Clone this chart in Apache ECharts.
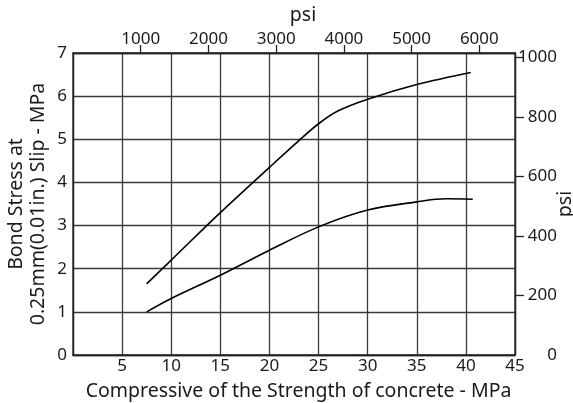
<!DOCTYPE html>
<html>
<head>
<meta charset="utf-8">
<script src="https://cdn.jsdelivr.net/npm/echarts@6/dist/echarts.min.js"></script>
<style>
  html, body { margin: 0; padding: 0; background: #fff; }
  #chart { width: 573px; height: 403px; }
</style>
</head>
<body>
<div id="chart"></div>
<script>
// Bond stress at 0.25 mm slip versus concrete compressive strength (MPa), two curves
const upperStrength = [7.5, 10, 15, 20, 23, 25, 27, 30, 35, 40.5];
const upperBond     = [1.65, 2.2, 3.3, 4.35, 4.97, 5.36, 5.66, 5.93, 6.27, 6.55];
const lowerStrength = [7.5, 10, 15, 20, 25, 30, 35, 38, 40.7];
const lowerBond     = [1.0, 1.31, 1.85, 2.43, 2.97, 3.36, 3.55, 3.62, 3.61];

// Tick labels
const mpaTicks = [5, 10, 15, 20, 25, 30, 35, 40, 45];
const psiTopTicks = [1000, 2000, 3000, 4000, 5000, 6000];
const psiRightTicks = [0, 200, 400, 600, 800, 1000];

const PSI_PER_MPA = 145.038;
const xMax = 45, yMax = 7;

const FONT = 'Noto Sans';
const TXT = '#1a1a1a';
const GRIDC = '#3a3a3a';
const TICK_FS = 17;
const NAME_FS = 19.5;

function pairs(xs, ys) { return xs.map((x, i) => [x, ys[i]]); }
const plain = v => String(Math.round(v));

const chart = echarts.init(document.getElementById('chart'), null, { renderer: 'canvas' });

const axisLine = { show: true, onZero: false, lineStyle: { color: '#222', width: 1.3 } };

chart.setOption({
  animation: false,
  backgroundColor: '#fff',
  textStyle: { fontFamily: FONT, color: TXT },
  grid: {
    left: 73, right: 58, top: 53, bottom: 48,
    outerBoundsMode: 'none', containLabel: false,
    show: true, borderColor: '#222', borderWidth: 1.3, backgroundColor: 'transparent'
  },
  xAxis: [
    {
      type: 'value', position: 'bottom', min: 0, max: xMax, interval: 5,
      name: 'Compressive of the Strength of concrete - MPa',
      nameLocation: 'middle', nameGap: 26, nameMoveOverlap: false,
      nameTextStyle: { fontFamily: FONT, fontSize: NAME_FS, color: TXT, padding: [0, 0, 0, 9] },
      axisLine: axisLine,
      axisTick: { show: false },
      axisLabel: {
        fontFamily: FONT, fontSize: TICK_FS, color: TXT, margin: 3,
        customValues: mpaTicks, formatter: plain
      },
      splitLine: { show: true, lineStyle: { color: GRIDC, width: 1.3 } }
    },
    {
      type: 'value', position: 'top', min: 0, max: xMax * PSI_PER_MPA, interval: 1000,
      name: 'psi', nameLocation: 'middle', nameGap: 28, nameMoveOverlap: false,
      nameTextStyle: { fontFamily: FONT, fontSize: NAME_FS, color: TXT, padding: [0, 0, 0, 18] },
      axisLine: axisLine,
      axisTick: { show: true, inside: false, length: 8, lineStyle: { color: '#222', width: 1.3 }, customValues: psiTopTicks },
      axisLabel: { fontFamily: FONT, fontSize: TICK_FS, color: TXT, margin: 5, customValues: psiTopTicks, formatter: plain },
      splitLine: { show: false }
    }
  ],
  yAxis: [
    {
      type: 'value', position: 'left', min: 0, max: yMax, interval: 1,
      name: 'Bond Stress at\n0.25mm(0.01in.) Slip - MPa',
      nameLocation: 'middle', nameGap: 24, nameMoveOverlap: false,
      nameTextStyle: { fontFamily: FONT, fontSize: NAME_FS, color: TXT, lineHeight: 22 },
      axisLine: axisLine,
      axisTick: { show: false },
      axisLabel: { fontFamily: FONT, fontSize: TICK_FS, color: TXT, margin: 6, formatter: plain },
      splitLine: { show: true, lineStyle: { color: GRIDC, width: 1.3 } }
    },
    {
      type: 'value', position: 'right', min: 0, max: yMax * PSI_PER_MPA, interval: 200,
      name: 'psi', nameLocation: 'middle', nameGap: 40, nameMoveOverlap: false,
      nameTextStyle: { fontFamily: FONT, fontSize: NAME_FS, color: TXT },
      axisLine: axisLine,
      axisTick: { show: true, inside: false, length: 9, lineStyle: { color: '#222', width: 1.3 }, customValues: psiRightTicks.slice(1) },
      axisLabel: { fontFamily: FONT, fontSize: TICK_FS, color: TXT, margin: 42, align: 'right', customValues: psiRightTicks, formatter: plain },
      splitLine: { show: false }
    }
  ],
  series: [
    {
      type: 'line', xAxisIndex: 0, yAxisIndex: 0,
      data: pairs(upperStrength, upperBond),
      smooth: 0.35, showSymbol: false,
      lineStyle: { color: '#000', width: 1.6 }
    },
    {
      type: 'line', xAxisIndex: 0, yAxisIndex: 0,
      data: pairs(lowerStrength, lowerBond),
      smooth: 0.35, showSymbol: false,
      lineStyle: { color: '#000', width: 1.6 }
    }
  ]
});
</script>
</body>
</html>
